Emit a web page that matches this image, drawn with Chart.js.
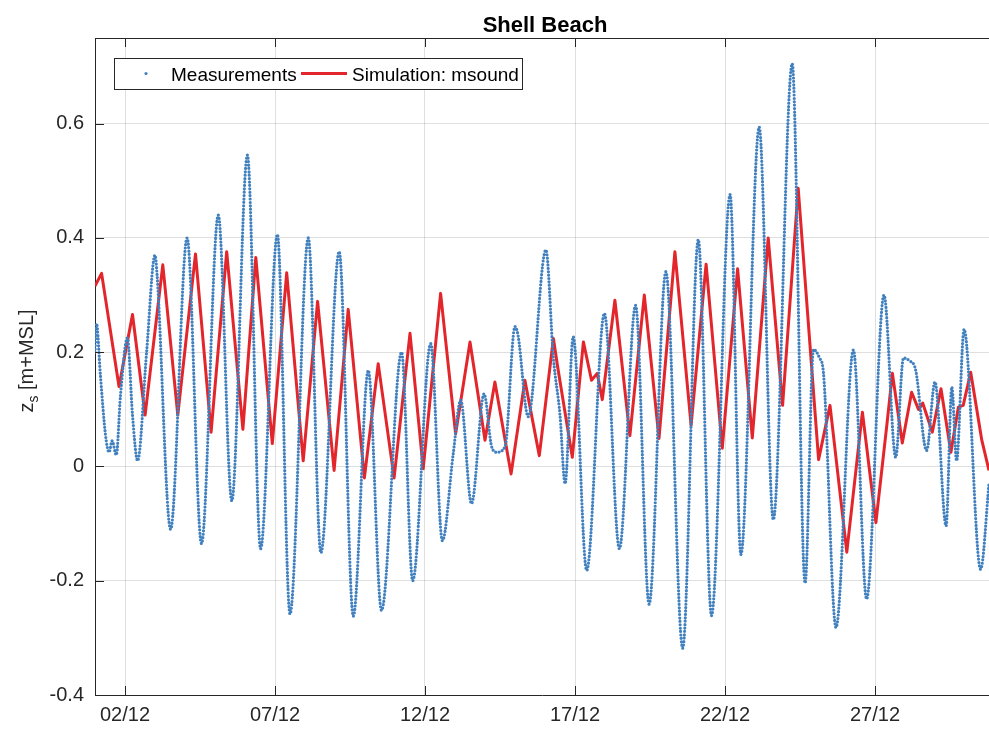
<!DOCTYPE html>
<html>
<head>
<meta charset="utf-8">
<title>Shell Beach</title>
<script src="https://cdn.jsdelivr.net/npm/chart.js@4.4.1/dist/chart.umd.min.js"></script>
<style>
  html, body { margin: 0; padding: 0; background: #fff; }
  canvas { display: block; }
</style>
</head>
<body>
<canvas id="levelChart" width="989" height="729"></canvas>
<script>
// time axis is day of December (1.0 = 01/12 00:00)
const xTickDays = [2, 7, 12, 17, 22, 27];
const yTicks = [-0.4, -0.2, 0, 0.2, 0.4, 0.6];

// measured water level, turning points and shoulders of the record
const measDay = [
  1.00, 1.05, 1.18, 1.35, 1.47, 1.57, 1.71, 1.85, 2.08, 2.25, 2.42, 2.72,
  3.00, 3.07, 3.52, 4.07, 4.55, 5.11, 5.56, 6.08, 6.52, 7.08, 7.50, 8.11,
  8.53, 9.14, 9.61, 10.11, 10.55, 11.22, 11.59, 12.19, 12.58, 12.94, 13.19, 13.55,
  13.97, 14.22, 14.39, 14.67, 15.00, 15.10, 15.44, 16.03, 16.28, 16.50, 16.67, 16.94,
  17.39, 17.98, 18.48, 19.02, 19.47, 20.03, 20.59, 21.11, 21.55, 22.17, 22.53, 23.14,
  23.61, 24.24, 24.67, 24.95, 25.15, 25.28, 25.70, 26.28, 26.72, 27.30, 27.69, 27.95,
  28.15, 28.35, 28.72, 29.00, 29.37, 29.56, 29.72, 29.97, 30.52, 30.80
];
const measLevel = [
  0.20, 0.25, 0.16, 0.055, 0.025, 0.045, 0.02, 0.125, 0.225, 0.09, 0.01, 0.20,
  0.37, 0.335, -0.11, 0.40, -0.135, 0.44, -0.06, 0.545, -0.144, 0.406, -0.258, 0.40,
  -0.151, 0.376, -0.262, 0.168, -0.252, 0.20, -0.20, 0.215, -0.13, 0.022, 0.116, -0.065,
  0.127, 0.035, 0.025, 0.035, 0.245, 0.23, 0.087, 0.379, 0.19, 0.09, -0.03, 0.227,
  -0.182, 0.268, -0.144, 0.282, -0.241, 0.341, -0.318, 0.397, -0.261, 0.476, -0.154, 0.594,
  -0.093, 0.705, -0.204, 0.205, 0.19, 0.165, -0.282, 0.204, -0.232, 0.30, 0.016, 0.19,
  0.185, 0.17, 0.028, 0.148, -0.104, 0.139, 0.01, 0.24, -0.18, -0.03
];

// msound model output
const simDay = [
  1.00, 1.22, 1.80, 2.25, 2.67, 3.26, 3.76, 4.35, 4.87, 5.39, 5.93, 6.36,
  6.91, 7.39, 7.94, 8.42, 8.97, 9.44, 9.98, 10.44, 10.97, 11.50, 11.94, 12.52,
  13.02, 13.50, 14.00, 14.33, 14.87, 15.33, 15.81, 16.28, 16.42, 16.91, 17.28, 17.55,
  17.74, 17.91, 18.33, 18.83, 19.31, 19.80, 20.33, 20.87, 21.37, 21.91, 22.42, 22.91,
  23.44, 23.92, 24.44, 25.12, 25.50, 26.06, 26.58, 27.03, 27.40, 27.58, 27.91, 28.22,
  28.45, 28.59, 28.91, 29.20, 29.53, 29.78, 29.94, 30.19, 30.56, 30.80
];
const simLevel = [
  0.316, 0.338, 0.14, 0.266, 0.09, 0.353, 0.09, 0.372, 0.06, 0.376, 0.065, 0.366,
  0.04, 0.339, 0.01, 0.289, -0.007, 0.275, -0.02, 0.18, -0.02, 0.233, -0.004, 0.303,
  0.057, 0.218, 0.046, 0.148, -0.013, 0.151, 0.019, 0.224, 0.175, 0.016, 0.218, 0.151,
  0.163, 0.117, 0.291, 0.054, 0.30, 0.049, 0.376, 0.072, 0.354, 0.032, 0.346, 0.05,
  0.40, 0.107, 0.487, 0.012, 0.107, -0.15, 0.095, -0.098, 0.075, 0.163, 0.041, 0.13,
  0.10, 0.111, 0.06, 0.136, 0.025, 0.104, 0.107, 0.165, 0.046, -0.007
];

const measColor = '#4080bf';
const simColor = '#e3262b';
const axisColor = '#262626';
const fontFamily = '"Liberation Sans", Arial, Helvetica, sans-serif';

Chart.defaults.font.family = fontFamily;
Chart.defaults.color = axisColor;

const toPoints = (xs, ys) => xs.map((x, i) => ({ x: x, y: ys[i] }));

// title, y label, legend box, top border and the inward tick marks
const axesDecor = {
  id: 'axesDecor',
  afterDraw(chart) {
    const { ctx, chartArea: a, scales: { x, y } } = chart;
    ctx.save();

    ctx.strokeStyle = axisColor;
    ctx.lineWidth = 1;
    ctx.beginPath();
    ctx.moveTo(a.left, a.top + 0.5);
    ctx.lineTo(a.right, a.top + 0.5);
    xTickDays.forEach(d => {
      const px = Math.round(x.getPixelForValue(d)) + 0.5;
      ctx.moveTo(px, a.bottom);
      ctx.lineTo(px, a.bottom - 9);
      ctx.moveTo(px, a.top);
      ctx.lineTo(px, a.top + 9);
    });
    yTicks.forEach(v => {
      const py = Math.round(y.getPixelForValue(v)) + 0.5;
      ctx.moveTo(a.left, py);
      ctx.lineTo(a.left + 9, py);
    });
    ctx.stroke();

    // title
    ctx.fillStyle = '#000';
    ctx.textAlign = 'center';
    ctx.textBaseline = 'alphabetic';
    ctx.font = 'bold 22px ' + fontFamily;
    ctx.fillText('Shell Beach', (a.left + a.right) / 2 + 3, 32);

    // y label: z with subscript s
    ctx.save();
    ctx.translate(33, 361);
    ctx.rotate(-Math.PI / 2);
    ctx.textAlign = 'left';
    ctx.fillStyle = axisColor;
    const big = '20px ' + fontFamily;
    const small = '14px ' + fontFamily;
    ctx.font = big;
    const wz = ctx.measureText('z').width;
    const wRest = ctx.measureText(' [m+MSL]').width;
    ctx.font = small;
    const ws = ctx.measureText('s').width;
    let tx = -(wz + ws + wRest) / 2;
    ctx.font = big;
    ctx.fillText('z', tx, 0);
    tx += wz;
    ctx.font = small;
    ctx.fillText('s', tx, 5);
    tx += ws;
    ctx.font = big;
    ctx.fillText(' [m+MSL]', tx, 0);
    ctx.restore();

    // legend
    const sets = chart.data.datasets;
    ctx.fillStyle = '#fff';
    ctx.fillRect(114, 58, 408, 31);
    ctx.strokeStyle = axisColor;
    ctx.strokeRect(114.5, 58.5, 408, 31);
    ctx.fillStyle = measColor;
    ctx.beginPath();
    ctx.arc(146, 73.5, 1.6, 0, Math.PI * 2);
    ctx.fill();
    ctx.strokeStyle = simColor;
    ctx.lineWidth = 3;
    ctx.beginPath();
    ctx.moveTo(301, 73.5);
    ctx.lineTo(347, 73.5);
    ctx.stroke();
    ctx.fillStyle = '#000';
    ctx.font = '19px ' + fontFamily;
    ctx.textAlign = 'left';
    ctx.fillText(sets[0].label, 171, 81);
    ctx.fillText(sets[1].label, 352, 81);

    ctx.restore();
  }
};

new Chart(document.getElementById('levelChart'), {
  type: 'line',
  data: {
    datasets: [
      {
        label: 'Measurements',
        data: toPoints(measDay, measLevel),
        borderColor: measColor,
        borderWidth: 3.2,
        borderDash: [0, 3.4],
        borderCapStyle: 'round',
        cubicInterpolationMode: 'monotone',
        pointRadius: 0,
        fill: false
      },
      {
        label: 'Simulation: msound',
        data: toPoints(simDay, simLevel),
        borderColor: simColor,
        borderWidth: 3,
        borderJoinStyle: 'round',
        tension: 0,
        pointRadius: 0,
        fill: false
      }
    ]
  },
  options: {
    responsive: false,
    animation: false,
    devicePixelRatio: 1,
    layout: { padding: { top: 38, right: 0, bottom: 0, left: 0 } },
    plugins: {
      legend: { display: false },
      title: { display: false },
      tooltip: { enabled: false }
    },
    scales: {
      x: {
        type: 'linear',
        min: 1,
        max: 30.8,
        afterBuildTicks: scale => { scale.ticks = xTickDays.map(v => ({ value: v })); },
        afterFit: scale => { scale.height = 34; },
        grid: { color: 'rgba(38,38,38,0.15)', drawTicks: false },
        border: { color: axisColor, width: 1 },
        ticks: {
          padding: 8,
          maxRotation: 0,
          font: { size: 20 },
          color: axisColor,
          callback: v => String(v).padStart(2, '0') + '/12'
        }
      },
      y: {
        min: -0.4,
        max: 0.75,
        afterBuildTicks: scale => { scale.ticks = yTicks.map(v => ({ value: v })); },
        afterFit: scale => { scale.width = 95; },
        grid: { color: 'rgba(38,38,38,0.15)', drawTicks: false },
        border: { color: axisColor, width: 1 },
        ticks: {
          padding: 11,
          font: { size: 20 },
          color: axisColor,
          callback: v => (v === 0 ? '0' : v.toFixed(1))
        }
      }
    }
  },
  plugins: [axesDecor]
});
</script>
</body>
</html>
